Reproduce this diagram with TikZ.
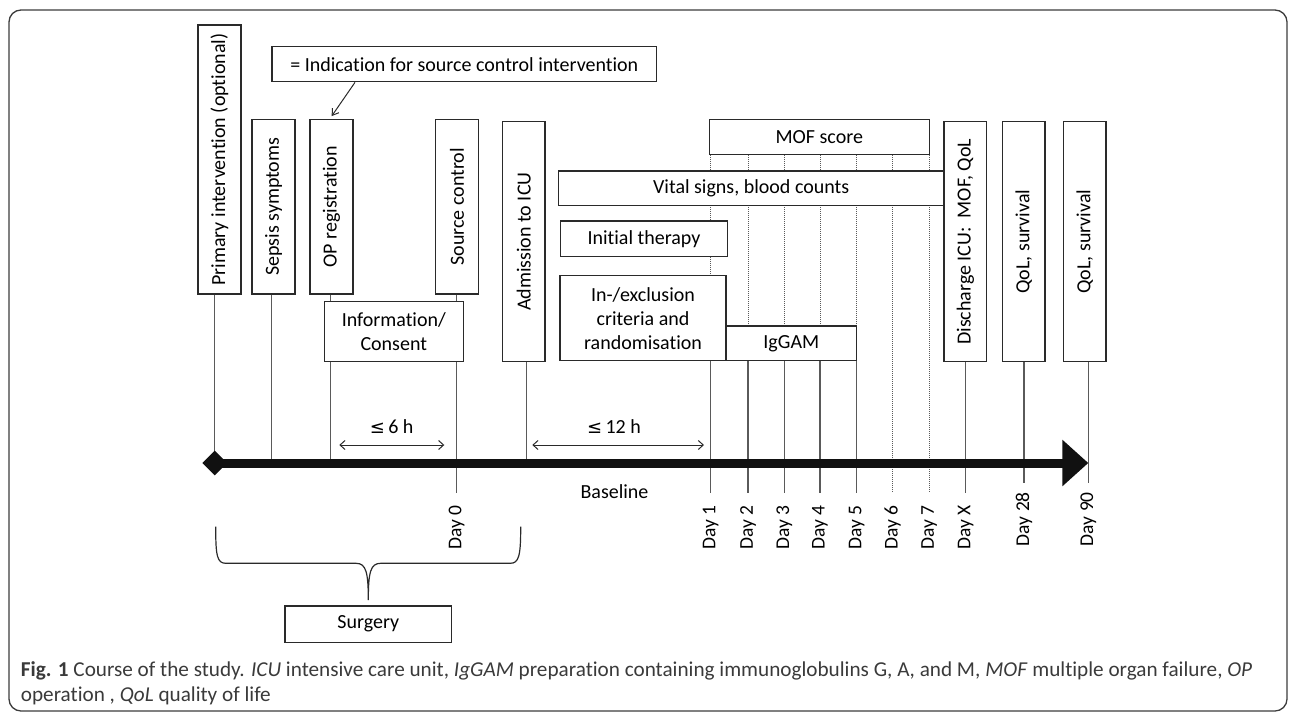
\documentclass[tikz,border=0pt]{standalone}
\usepackage{fontspec}
\setmainfont{Carlito}[Ligatures=CommonOff]
\newfontfamily\symfont{DejaVu Sans}
\usetikzlibrary{arrows.meta,shapes.geometric,calc}
\definecolor{boxc}{HTML}{2A2A2A}
\definecolor{linec}{HTML}{5A5A5A}
\definecolor{axisc}{HTML}{111111}
\definecolor{capc}{HTML}{3A3A3A}
\definecolor{framec}{HTML}{3C3C3C}
\pgfdeclarelayer{bg}
\pgfsetlayers{bg,main}
\begin{document}
\begin{tikzpicture}[x=1pt,y=1pt,
  box/.style={draw=boxc, line width=1.3pt, fill=white, inner sep=0pt, align=center,
    font=\fontsize{20}{24}\selectfont, text=black},
  vline/.style={draw=linec, line width=1.3pt},
  dline/.style={draw=linec, line width=0.9pt, dash pattern=on 1pt off 1pt},
  daylab/.style={rotate=90, anchor=east, inner sep=0pt, font=\fontsize{19.5}{24}\selectfont, text=black},
  lab/.style={inner sep=0pt, font=\fontsize{20}{24}\selectfont, text=black},
  dur/.style={draw=boxc, line width=1pt},
  captxt/.style={anchor=base west, inner sep=0pt, font=\fontsize{21.2}{25}\selectfont, text=capc},
]
\useasboundingbox (0,0) rectangle (1292,-713);
% frame
\draw[framec, line width=1.3pt, rounded corners=12pt] (9,-10) rectangle (1287,-711);

% boxes
\node[box, minimum width=43pt, minimum height=269pt] (prim) at (219.5,-159.5) {\rotatebox{90}{Primary intervention (optional)}};
\node[box, minimum width=43pt, minimum height=174.7pt] (sepsis) at (273.5,-206.7) {\rotatebox{90}{Sepsis symptoms}};
\node[box, minimum width=43pt, minimum height=174.7pt] (opreg) at (331.5,-206.7) {\rotatebox{90}{OP registration}};
\node[box, minimum width=43pt, minimum height=174.7pt] (srcctl) at (457,-206.7) {\rotatebox{90}{Source control}};
\node[box, minimum width=139pt, minimum height=60pt] (info) at (393.8,-331.7) {Information/\\Consent};
\node[box, minimum width=42.5pt, minimum height=240pt] (adm) at (523.8,-241.7) {\rotatebox{90}{Admission to ICU}};
\node[box, minimum width=384.6pt, minimum height=35pt] (indic) at (464.3,-64.2) {= Indication for source control intervention};
\node[box, minimum width=220pt, minimum height=35pt] (mof) at (819.3,-136.8) {MOF score};
\node[box, minimum width=385.7pt, minimum height=34.3pt] (vital) at (751.2,-188.2) {Vital signs, blood counts};
\node[box, minimum width=166.6pt, minimum height=35.7pt] (init) at (644,-238.8) {Initial therapy};
\node[box, minimum width=166pt, minimum height=85pt] (inex) at (643,-318.2) {In-/exclusion\\criteria and\\randomisation};
\node[box, minimum width=130.7pt, minimum height=34.7pt] (iggam) at (791.3,-343.3) {IgGAM};
\node[box, minimum width=42.7pt, minimum height=240pt] (disch) at (965.3,-241.7) {\rotatebox{90}{Discharge ICU:\ \ MOF, QoL}};
\node[box, minimum width=42.7pt, minimum height=240pt] (qola) at (1023.7,-241.7) {\rotatebox{90}{QoL, survival}};
\node[box, minimum width=42.7pt, minimum height=240pt] (qolb) at (1084.7,-241.7) {\rotatebox{90}{QoL, survival}};
\node[box, minimum width=166.7pt, minimum height=36.3pt] (surg) at (368.3,-624.2) {Surgery};

% axis tick coordinates
\coordinate (tPrim) at (214.7,-463);
\coordinate (tSep) at (271.7,-463);
\coordinate (tOP) at (330.7,-463);
\coordinate (tD0) at (456.7,-463);
\coordinate (tAdm) at (526.7,-463);
\coordinate (tD1) at (710.7,-463);
\coordinate (tD2) at (748,-463);
\coordinate (tD3) at (784.3,-463);
\coordinate (tD4) at (820,-463);
\coordinate (tD5) at (856.7,-463);
\coordinate (tD6) at (892.7,-463);
\coordinate (tD7) at (929.3,-463);
\coordinate (tDX) at (965.7,-463);
\coordinate (tD28) at (1024,-463);
\coordinate (tD90) at (1088.3,-463);
% lower ends of the day lines
\coordinate (eD0) at (456.7,-492.7);
\coordinate (eD1) at (710.7,-492.7);
\coordinate (eD2) at (748,-492.7);
\coordinate (eD3) at (784.3,-492.7);
\coordinate (eD4) at (820,-492.7);
\coordinate (eD5) at (856.7,-492.7);
\coordinate (eD6) at (892.7,-492.7);
\coordinate (eD7) at (929.3,-492.7);
\coordinate (eDX) at (965.7,-492.7);
\coordinate (eD28) at (1024,-483.3);
\coordinate (eD90) at (1088.3,-483.3);

% dotted lines behind the boxes
\begin{pgfonlayer}{bg}
\draw[dline] (mof.south -| tD1) -- (inex.south -| tD1);
\draw[dline] (mof.south -| tD2) -- (iggam.north -| tD2);
\draw[dline] (mof.south -| tD3) -- (iggam.north -| tD3);
\draw[dline] (mof.south -| tD4) -- (iggam.north -| tD4);
\draw[dline] (mof.south -| tD5) -- (iggam.north -| tD5);
\draw[dline] (mof.south -| tD6) -- (eD6);
\draw[dline] (mof.south -| tD7) -- (eD7);
\end{pgfonlayer}

% solid vertical lines
\draw[vline] (prim.south -| tPrim) -- (tPrim);
\draw[vline] (sepsis.south -| tSep) -- (tSep);
\draw[vline] (opreg.south -| tOP) -- (info.north -| tOP);
\draw[vline] (info.south -| tOP) -- (tOP);
\draw[vline] (srcctl.south -| tD0) -- (info.north -| tD0);
\draw[vline] (info.south -| tD0) -- (eD0);
\draw[vline] (adm.south -| tAdm) -- (tAdm);
\draw[vline] (inex.south -| tD1) -- (eD1);
\draw[vline] (iggam.south -| tD2) -- (eD2);
\draw[vline] (iggam.south -| tD3) -- (eD3);
\draw[vline] (iggam.south -| tD4) -- (eD4);
\draw[vline] (iggam.south -| tD5) -- (eD5);
\draw[vline] (disch.south -| tDX) -- (eDX);
\draw[vline] (qola.south -| tD28) -- (eD28);
\draw[vline] (qolb.south -| tD90) -- (eD90);

% indication arrow
\draw[dur, -{Straight Barb[length=6pt,width=8pt]}] ([xshift=-109.3pt]indic.south) -- ([xshift=0.2pt,yshift=2.6pt]opreg.north);

% time axis
\node[diamond, fill=axisc, minimum width=25pt, minimum height=25pt, inner sep=0pt] (start) at (tPrim) {};
\draw[axisc, line width=9pt, -{Triangle[length=26pt,width=45pt]}] (start.center) -- (tD90);

% duration arrows
\coordinate (h6a) at (339.3,-445);
\coordinate (h6b) at (444.3,-445);
\coordinate (h12a) at (532.3,-445);
\coordinate (h12b) at (704,-445);
\draw[dur, {Straight Barb[length=5pt,width=9pt]}-{Straight Barb[length=5pt,width=9pt]}] (h6a) -- (h6b);
\draw[dur, {Straight Barb[length=5pt,width=9pt]}-{Straight Barb[length=5pt,width=9pt]}] (h12a) -- (h12b);
\node[lab] (l6) at (391.7,-426.7) {{\symfont\fontsize{18}{20}\selectfont ≤}\,6 h};
\node[lab] (l12) at (614,-426.7) {{\symfont\fontsize{18}{20}\selectfont ≤}\,12 h};
\node[lab] (base) at (614.5,-491.7) {Baseline};

% day labels
\node[daylab] (d0) at (456.7,-505) {Day 0};
\node[daylab] (d1) at (710.7,-505) {Day 1};
\node[daylab] (d2) at (748,-505) {Day 2};
\node[daylab] (d3) at (784.3,-505) {Day 3};
\node[daylab] (d4) at (820,-505) {Day 4};
\node[daylab] (d5) at (856.7,-505) {Day 5};
\node[daylab] (d6) at (892.7,-505) {Day 6};
\node[daylab] (d7) at (929.3,-505) {Day 7};
\node[daylab] (dx) at (965.7,-505) {Day X};
\node[daylab] (d28) at (1024,-492) {Day 28};
\node[daylab] (d90) at (1088.3,-492) {Day 90};

% brace
\draw[boxc, line width=1.2pt] (215.7,-526.7) .. controls (215.7,-556) and (217,-563.3) .. (226,-563.3)
  -- (356,-563.3) .. controls (366,-563.3) and (368.3,-572) .. (368.3,-600)
  .. controls (368.3,-572) and (370.6,-563.3) .. (380.6,-563.3)
  -- (510,-563.3) .. controls (519,-563.3) and (520.7,-556) .. (520.7,-526.7);

% caption
\node[captxt] (cap1) at (20.7,-676) {\textbf{Fig. 1} Course of the study. \textit{ICU} intensive care unit, \textit{IgGAM} preparation containing immunoglobulins G, A, and M, \textit{MOF} multiple organ failure, \textit{OP}};
\node[captxt] (cap2) at (20.7,-701) {operation , \textit{QoL} quality of life};
\end{tikzpicture}
\end{document}
